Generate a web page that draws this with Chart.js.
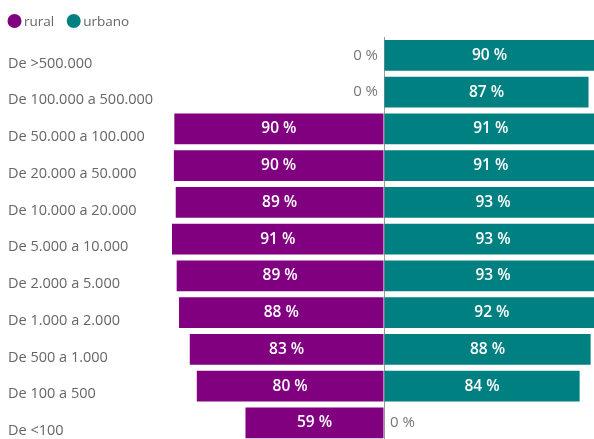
<!DOCTYPE html>
<html>
<head>
<meta charset="utf-8">
<script src="https://cdn.jsdelivr.net/npm/chart.js@4.4.0/dist/chart.umd.min.js"></script>
<style>
  html, body { margin: 0; padding: 0; overflow: hidden; background: #fff; }
  #wrap { width: 594px; height: 439px; overflow: hidden; }
</style>
</head>
<body>
<div id="wrap"><canvas id="myChart" width="618" height="450"></canvas></div>
<script>
const categories = [
  "De >500.000",
  "De 100.000 a 500.000",
  "De 50.000 a 100.000",
  "De 20.000 a 50.000",
  "De 10.000 a 20.000",
  "De 5.000 a 10.000",
  "De 2.000 a 5.000",
  "De 1.000 a 2.000",
  "De 500 a 1.000",
  "De 100 a 500",
  "De <100",
];
const seriesNames = ["rural", "urbano"];
const rural = [0, 0, 89.6, 89.8, 89.0, 90.6, 88.6, 87.6, 83.0, 80.0, 59.2];
const urbano = [90.0, 87.4, 91.0, 91.0, 93.0, 93.0, 93.0, 92.0, 88.3, 83.6, 0];

const colors = ["#800080", "#008080"];
const FONT = '"Open Sans", "Noto Sans", sans-serif';

// etiquetas de valor dentro das barras
const valueLabels = {
  id: "valueLabels",
  afterLayout: (chart) => {
    // deixa os rótulos longos passarem um pouco da área do eixo
    chart.scales.y.right += 20;
  },
  afterDatasetsDraw: (chart) => {
    const { ctx } = chart;
    const zero = chart.scales.x.getPixelForValue(0);
    ctx.save();
    ctx.textBaseline = "middle";
    chart.data.datasets.forEach((ds, i) => {
      const meta = chart.getDatasetMeta(i);
      const raw = i === 0 ? rural : urbano;
      meta.data.forEach((bar, j) => {
        const v = raw[j];
        const txt = Math.round(v) + " %";
        if (v === 0) {
          ctx.font = "15px " + FONT;
          ctx.fillStyle = "#777";
          if (i === 0) {
            ctx.textAlign = "right";
            ctx.fillText(txt, zero - 6, bar.y);
          } else {
            ctx.textAlign = "left";
            ctx.fillText(txt, zero + 6, bar.y);
          }
        } else {
          ctx.font = "600 15.5px " + FONT;
          ctx.fillStyle = "#fff";
          ctx.textAlign = "center";
          ctx.fillText(txt, (bar.x + bar.base) / 2, bar.y);
        }
      });
    });
    ctx.restore();
  },
  afterDraw: (chart) => {
    // legenda
    const { ctx } = chart;
    ctx.save();
    ctx.font = "13.5px " + FONT;
    ctx.textBaseline = "middle";
    ctx.textAlign = "left";
    let x = 7.5;
    const y = 21;
    seriesNames.forEach((name, i) => {
      ctx.fillStyle = colors[i];
      ctx.beginPath();
      ctx.arc(x + 7, y, 7, 0, Math.PI * 2);
      ctx.fill();
      ctx.fillStyle = "#666";
      ctx.fillText(name, x + 16.5, y + 1);
      x += 16.5 + ctx.measureText(name).width + 12.5;
    });
    ctx.restore();
  },
};

new Chart(document.getElementById("myChart"), {
  type: "bar",
  data: {
    labels: categories,
    datasets: [
      {
        label: seriesNames[0],
        data: rural.map((v) => -v),
        backgroundColor: colors[0],
        barPercentage: 0.838,
        categoryPercentage: 1,
      },
      {
        label: seriesNames[1],
        data: urbano,
        backgroundColor: colors[1],
        barPercentage: 0.838,
        categoryPercentage: 1,
      },
    ],
  },
  options: {
    responsive: false,
    animation: false,
    indexAxis: "y",
    layout: { padding: { left: 8, top: 37, right: 0, bottom: 6 } },
    plugins: {
      legend: { display: false },
      tooltip: { enabled: false },
    },
    scales: {
      x: {
        min: -100,
        max: 100,
        stacked: true,
        z: 1,
        ticks: { display: false },
        border: { display: false },
        grid: {
          drawTicks: false,
          lineWidth: 1,
          color: (c) => (c.tick && c.tick.value === 0 ? "#999" : "rgba(0,0,0,0)"),
        },
      },
      y: {
        stacked: true,
        grid: { display: false },
        border: { display: false },
        afterFit: (s) => {
          s.width = 142;
        },
        ticks: {
          color: "#666",
          crossAlign: "far",
          labelOffset: 8,
          padding: 0,
          font: { family: FONT, size: 14.5 },
        },
      },
    },
  },
  plugins: [valueLabels],
});
</script>
</body>
</html>
